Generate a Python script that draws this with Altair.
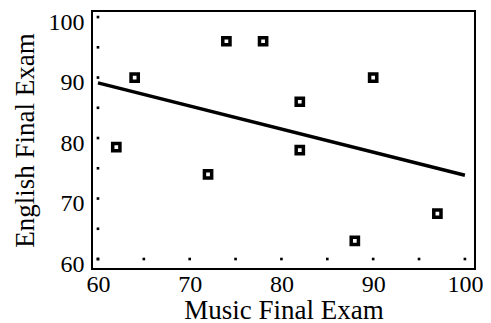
import altair as alt
import pandas as pd

music = [64, 62, 74, 78, 82, 82, 90, 72, 88, 97]
english = [90, 78.5, 96, 96, 86, 78, 90, 74, 63, 67.5]

tick_x = [60, 65, 70, 75, 80, 85, 90, 95, 100]
tick_y = [60, 65, 70, 75, 80, 85, 90, 95, 100]
x_labels = [60, 70, 80, 90, 100]
y_labels = [60, 70, 80, 90, 100]

df = pd.DataFrame({"music": music, "english": english})
dots = pd.DataFrame(
    {"music": tick_x + [60] * len(tick_y), "english": [60] * len(tick_x) + tick_y}
)

FONT = "Liberation Serif"
xs = alt.Scale(domain=[59.35, 101.1], nice=False, zero=False)
ys = alt.Scale(domain=[58.35, 101.0], nice=False, zero=False)

xenc = alt.X(
    "music:Q",
    scale=xs,
    title="Music Final Exam",
    axis=alt.Axis(values=x_labels, labelPadding=3, titlePadding=1),
)
yenc = alt.Y(
    "english:Q",
    scale=ys,
    title="English Final Exam",
    axis=alt.Axis(values=y_labels, labelPadding=8, labelOffset=5, titlePadding=9),
)

base = alt.Chart(df)

line = base.transform_regression("music", "english", extent=[60, 100]).mark_line(
    color="black", strokeWidth=3.5, strokeCap="butt"
).encode(x=xenc, y=yenc)

pts = base.mark_point(
    shape="square", filled=False, stroke="black", strokeWidth=3.5, size=52, opacity=1
).encode(x=xenc, y=yenc)

tickdots = alt.Chart(dots).mark_square(color="black", size=7, opacity=1).encode(
    x=xenc, y=yenc
)

chart = (
    alt.layer(tickdots, line, pts)
    .properties(
        width=383,
        height=258,
        padding={"left": 84, "top": 3, "right": 8, "bottom": 54},
        autosize=alt.AutoSizeParams(type="none"),
    )
    .configure_axis(
        grid=False, ticks=False, domain=False, labelFlush=False,
        labelFont=FONT, labelFontSize=24, labelColor="black",
        titleFont=FONT, titleFontSize=27, titleFontWeight="normal", titleColor="black",
    )
    .configure_view(stroke="black", strokeWidth=2)
)

chart.save("out.html", embed_options={"renderer": "svg", "actions": False})
